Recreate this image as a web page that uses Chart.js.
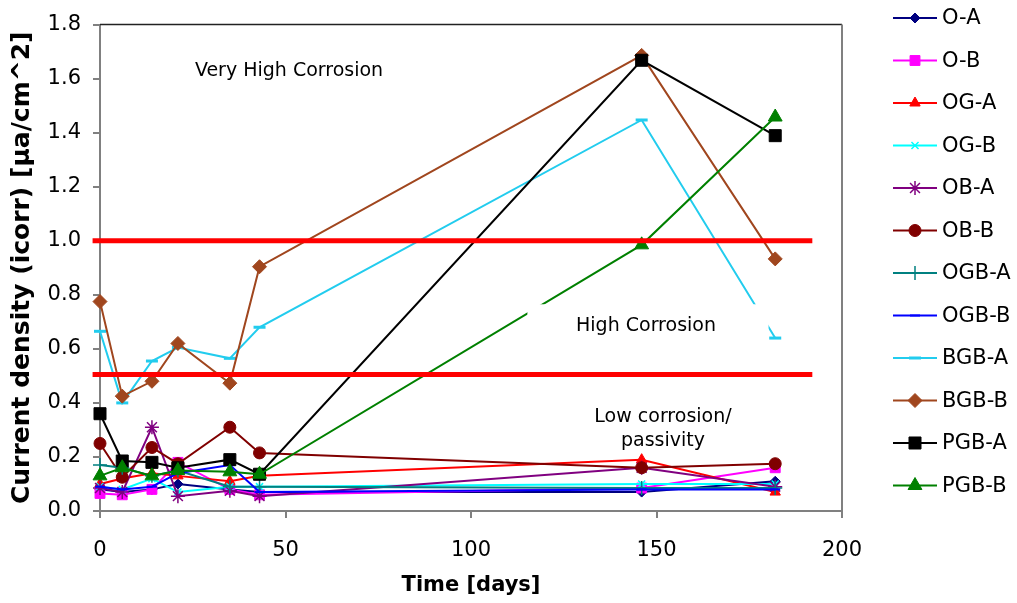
<!DOCTYPE html>
<html>
<head>
<meta charset="utf-8">
<script src="https://cdn.jsdelivr.net/npm/chart.js@4.4.1/dist/chart.umd.min.js"></script>
<style>
  html, body { margin: 0; padding: 0; background: #fff; }
  #wrap { width: 1017px; height: 603px; }
</style>
</head>
<body>
<div id="wrap"><canvas id="c" width="1017" height="603"></canvas></div>
<script>
// ---- data ----
const days = [0, 6, 14, 21, 35, 43, 146, 182];

const oA   = [0.08, 0.07, 0.08, 0.10, 0.08, 0.07, 0.07, 0.11];
const oB   = [0.065, 0.06, 0.08, 0.18, 0.08, 0.06, 0.085, 0.16];
const ogA  = [0.10, 0.12, 0.14, 0.13, 0.11, 0.13, 0.19, 0.07];
const ogB  = [0.09, 0.08, 0.12, 0.07, 0.09, 0.09, 0.10, 0.10];
const obA  = [0.085, 0.07, 0.31, 0.055, 0.075, 0.055, 0.16, 0.09];
const obB  = [0.25, 0.125, 0.235, 0.175, 0.31, 0.215, 0.16, 0.175];
const ogbA = [0.17, 0.16, 0.13, 0.15, 0.09, 0.09, 0.085, 0.085];
const ogbB = [0.09, 0.08, 0.09, 0.14, 0.17, 0.07, 0.08, 0.08];
const bgbA = [0.665, 0.40, 0.555, 0.605, 0.565, 0.68, 1.447, 0.64];
const bgbB = [0.775, 0.425, 0.48, 0.62, 0.473, 0.904, 1.686, 0.933];
const pgbA = [0.36, 0.185, 0.18, 0.16, 0.19, 0.136, 1.668, 1.389];
const pgbB = [0.13, 0.16, 0.13, 0.15, 0.145, 0.136, 0.985, 1.458];

const seriesNames = ['O-A', 'O-B', 'OG-A', 'OG-B', 'OB-A', 'OB-B', 'OGB-A', 'OGB-B', 'BGB-A', 'BGB-B', 'PGB-A', 'PGB-B'];
const seriesValues = [oA, oB, ogA, ogB, obA, obB, ogbA, ogbB, bgbA, bgbB, pgbA, pgbB];

// corrosion thresholds (red bars)
const thresholds = [1.0, 0.505];

// ---- styles ----
const STYLE = [
  { color: '#000080', point: 'rectRot', r: 5, bw: 1 },
  { color: '#FF00FF', point: 'rect', r: 7, bw: 1 },
  { color: '#FF0000', point: 'triangle', r: 6, bw: 1 },
  { color: '#00FFFF', point: 'crossRot', r: 5, bw: 1.5 },
  { color: '#800080', point: 'star', r: 7, bw: 1.5 },
  { color: '#800000', point: 'circle', r: 6, bw: 1 },
  { color: '#008080', point: 'cross', r: 7, bw: 1.5 },
  { color: '#0000FF', point: 'line', r: 5, bw: 2 },
  { color: '#22CCEE', point: 'line', r: 6, bw: 3 },
  { color: '#A0461E', point: 'rectRot', r: 7, bw: 1 },
  { color: '#000000', point: 'rect', r: 8.5, bw: 1 },
  { color: '#008000', point: 'triangle', r: 8, bw: 1 },
];
const FONT = 'DejaVu Sans';

const datasets = seriesNames.map((name, i) => ({
  label: name,
  data: days.map((d, k) => ({ x: d, y: seriesValues[i][k] })),
  borderColor: STYLE[i].color,
  backgroundColor: STYLE[i].color,
  borderWidth: 2,
  pointStyle: STYLE[i].point,
  pointRadius: STYLE[i].r,
  pointHoverRadius: STYLE[i].r,
  pointBorderWidth: STYLE[i].bw,
  pointBackgroundColor: STYLE[i].color,
  pointBorderColor: STYLE[i].color,
  tension: 0,
  fill: false,
  clip: false,
  order: seriesNames.length - 1 - i,
}));

const drawPoint = (Chart.helpers && Chart.helpers.drawPoint) ? Chart.helpers.drawPoint : null;

const overlays = {
  id: 'overlays',
  afterDatasetsDraw(chart) {
    const { ctx, scales: { x, y }, chartArea } = chart;
    ctx.save();
    // red threshold bars
    ctx.strokeStyle = '#FF0000';
    ctx.lineWidth = 5;
    thresholds.forEach((v) => {
      const py = y.getPixelForValue(v);
      ctx.beginPath();
      ctx.moveTo(x.getPixelForValue(-2), py);
      ctx.lineTo(x.getPixelForValue(192), py);
      ctx.stroke();
    });
    // white text box behind "High Corrosion"
    const bx1 = x.getPixelForValue(115.2), bx2 = x.getPixelForValue(180.2);
    const by1 = y.getPixelForValue(0.765), by2 = y.getPixelForValue(0.54);
    ctx.fillStyle = '#fff';
    ctx.fillRect(bx1, by1, bx2 - bx1, by2 - by1);

    ctx.fillStyle = '#000';
    ctx.font = '19px "' + FONT + '"';
    ctx.textAlign = 'center';
    ctx.textBaseline = 'middle';
    ctx.fillText('Very High Corrosion', 289, 71);
    ctx.fillText('High Corrosion', 646, 326);
    ctx.fillText('Low corrosion/', 663, 417);
    ctx.fillText('passivity', 663, 441);

    // plot frame: top and right
    ctx.lineWidth = 1.5;
    ctx.strokeStyle = '#222';
    ctx.beginPath();
    ctx.moveTo(chartArea.left, chartArea.top);
    ctx.lineTo(chartArea.right, chartArea.top);
    ctx.stroke();
    ctx.lineWidth = 2;
    ctx.strokeStyle = '#808080';
    ctx.beginPath();
    ctx.moveTo(chartArea.right, chartArea.top);
    ctx.lineTo(chartArea.right, chartArea.bottom);
    ctx.stroke();
    ctx.restore();
  },
  afterDraw(chart) {
    // legend: line with marker, label on the right
    const ctx = chart.ctx;
    ctx.save();
    chart.data.datasets.forEach((ds, i) => {
      const ly = 18 + 42.5 * i;
      ctx.strokeStyle = ds.borderColor;
      ctx.lineWidth = 2;
      ctx.beginPath();
      ctx.moveTo(893, ly);
      ctx.lineTo(937, ly);
      ctx.stroke();
      if (drawPoint) {
        ctx.fillStyle = ds.pointBackgroundColor;
        ctx.strokeStyle = ds.pointBorderColor;
        ctx.lineWidth = ds.pointBorderWidth;
        drawPoint(ctx, { pointStyle: ds.pointStyle, radius: ds.pointRadius, rotation: 0, borderWidth: ds.pointBorderWidth }, 915, ly);
      }
      ctx.fillStyle = '#000';
      ctx.font = '21px "' + FONT + '"';
      ctx.textAlign = 'left';
      ctx.textBaseline = 'middle';
      ctx.fillText(ds.label, 942, ly + 1);
    });
    ctx.restore();
  },
};

new Chart(document.getElementById('c').getContext('2d'), {
  type: 'line',
  data: { datasets },
  options: {
    responsive: false,
    animation: false,
    events: [],
    layout: { padding: { top: 21, right: 175, bottom: 0, left: 0 } },
    plugins: { legend: { display: false }, tooltip: { enabled: false } },
    scales: {
      x: {
        type: 'linear',
        min: 0,
        max: 200,
        ticks: { stepSize: 50, padding: 20, color: '#000', font: { family: FONT, size: 21 } },
        grid: { drawOnChartArea: false, tickLength: 7, color: '#808080', lineWidth: 2 },
        border: { color: '#808080', width: 2 },
        title: {
          display: true,
          text: 'Time [days]',
          color: '#000',
          font: { family: FONT, size: 21, weight: 'bold' },
          padding: { top: 0, bottom: 5 },
        },
        afterFit(s) { s.height = 92; },
      },
      y: {
        min: 0,
        max: 1.8,
        ticks: {
          stepSize: 0.2,
          padding: 12,
          color: '#000',
          font: { family: FONT, size: 21 },
          callback: (v) => v.toFixed(1),
        },
        grid: { drawOnChartArea: false, tickLength: 7, color: '#808080', lineWidth: 2 },
        border: { color: '#808080', width: 2 },
        title: {
          display: true,
          text: 'Current density (icorr) [\u00b5a/cm^2]',
          color: '#000',
          font: { family: FONT, size: 25, weight: 'bold' },
          padding: { top: 7, bottom: 0 },
        },
        afterFit(s) { s.width = 100; },
      },
    },
  },
  plugins: [overlays],
});
</script>
</body>
</html>
